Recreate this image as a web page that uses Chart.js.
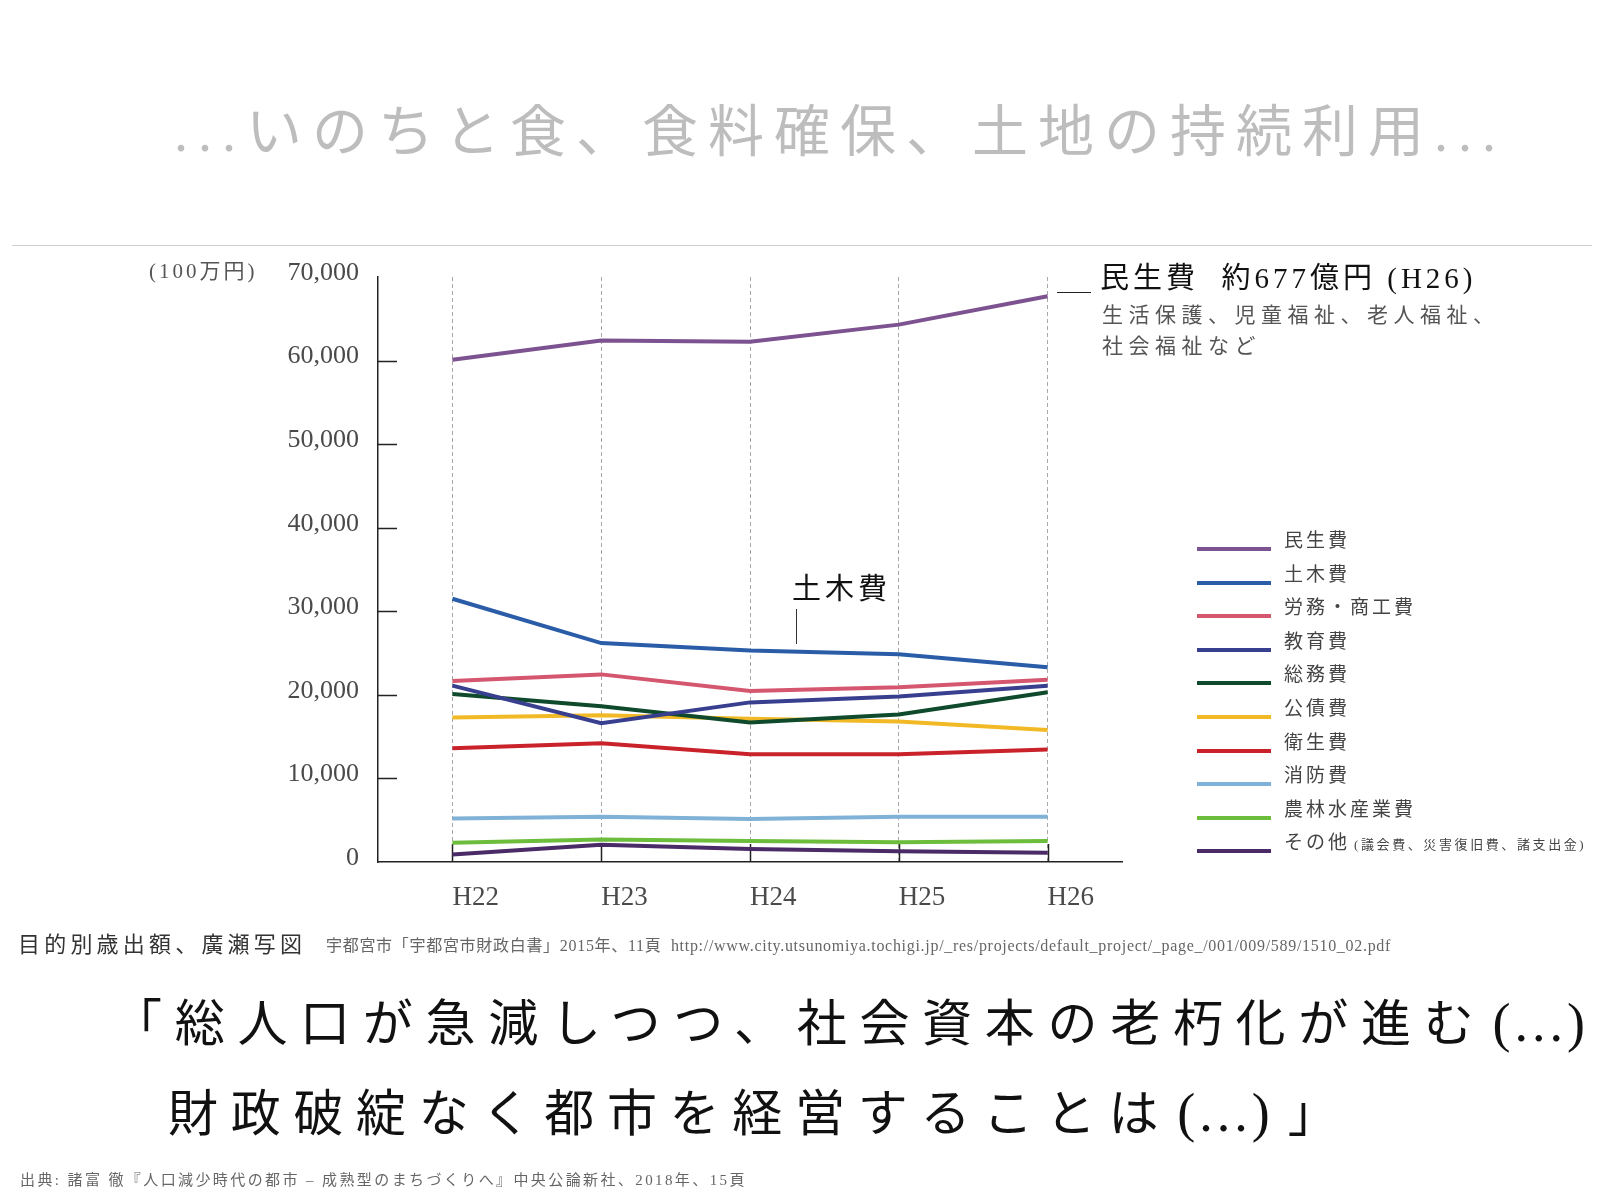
<!DOCTYPE html>
<html lang="ja">
<head>
<meta charset="utf-8">
<script src="https://cdn.jsdelivr.net/npm/chart.js@4.4.1/dist/chart.umd.min.js"></script>
<style>
  html, body { margin: 0; padding: 0; background: #fff; }
  #page {
    position: relative; width: 1600px; height: 1200px; overflow: hidden;
    font-family: 'Liberation Serif', 'Noto Sans CJK JP', serif;
  }
  #chart { position: absolute; left: 0; top: 0; }
  .t { position: absolute; white-space: nowrap; line-height: 1; }

  #title   { left: 174px; top: 104px; font-size: 56px; letter-spacing: 10px; color: #bdbdbd; }
  #rule    { position: absolute; left: 12px; top: 245px; width: 1580px; height: 0; border-top: 1.5px solid #cfcfcf; }
  #unit    { left: 149px; top: 261px; font-size: 21px; letter-spacing: 3px; color: #555; }

  #ann1    { left: 1100px; top: 264px; font-size: 29px; letter-spacing: 4px; color: #111; }
  #ann1b   { left: 1102px; top: 305px; font-size: 21px; letter-spacing: 5.5px; color: #555; }
  #ann1c   { left: 1102px; top: 336px; font-size: 21px; letter-spacing: 5.5px; color: #555; }
  #ann1dash{ position: absolute; left: 1057px; top: 292px; width: 34px; border-top: 1.5px solid #222; }

  #ann2    { left: 792px; top: 575px; font-size: 29px; letter-spacing: 4px; color: #111; }
  #ann2line{ position: absolute; left: 796px; top: 609px; height: 35px; border-left: 1.5px solid #333; }

  .lg-line { position: absolute; left: 1197px; width: 74px; height: 4px; }
  .lg-text { position: absolute; left: 1284px; font-size: 19px; letter-spacing: 3px; color: #444; line-height: 1; white-space: nowrap; }
  .lg-text small { font-size: 13px; letter-spacing: 2.6px; margin-left: 4px; }

  #src1    { left: 18px; top: 934px; font-size: 22px; letter-spacing: 4.2px; color: #333; }
  #src2    { left: 326px; top: 938px; font-size: 16px; letter-spacing: 0.7px; color: #666; }
  #quote1  { left: 112px; top: 996px; font-size: 50px; letter-spacing: 12.7px; color: #111; }
  #quote2  { left: 168px; top: 1086px; font-size: 50px; letter-spacing: 12.7px; color: #111; }
  .lat     { font-size: 54px; letter-spacing: 4px; margin-left: 6px; margin-right: 14px; }
  #foot    { left: 20px; top: 1173px; font-size: 15px; letter-spacing: 2.4px; color: #666; }
</style>
</head>
<body>
<div id="page">
  <canvas id="chart" width="1600" height="1200"></canvas>

  <div class="t" id="title">...いのちと食、食料確保、土地の持続利用...</div>
  <div id="rule"></div>
  <div class="t" id="unit">(100万円)</div>

  <div id="ann1dash"></div>
  <div class="t" id="ann1">民生費&nbsp;&nbsp;約677億円 (H26)</div>
  <div class="t" id="ann1b">生活保護、児童福祉、老人福祉、</div>
  <div class="t" id="ann1c">社会福祉など</div>

  <div class="t" id="ann2">土木費</div>
  <div id="ann2line"></div>

  <div id="legend"></div>

  <div class="t" id="src1">目的別歳出額、廣瀬写図</div>
  <div class="t" id="src2">宇都宮市「宇都宮市財政白書」2015年、11頁&nbsp;&nbsp;http://www.city.utsunomiya.tochigi.jp/_res/projects/default_project/_page_/001/009/589/1510_02.pdf</div>
  <div class="t" id="quote1">「総人口が急減しつつ、社会資本の老朽化が進む<span class="lat">(...)</span></div>
  <div class="t" id="quote2">財政破綻なく都市を経営することは<span class="lat">(...)</span>」</div>
  <div class="t" id="foot">出典: 諸富 徹『人口減少時代の都市 – 成熟型のまちづくりへ』中央公論新社、2018年、15頁</div>
</div>

<script>
// ─────────────────────────────────────────────
//  Data (100万円)
// ─────────────────────────────────────────────

const YEARS = ['H22', 'H23', 'H24', 'H25', 'H26'];

const SERIES_NAMES = ['民生費', '土木費', '労務・商工費', '教育費', '総務費',
                      '公債費', '衛生費', '消防費', '農林水産業費', 'その他'];
const SERIES_NOTE  = '(議会費、災害復旧費、諸支出金)'; // shown after その他

const minsei  = [60100, 62400, 62250, 64300, 67700];
const doboku  = [31500, 26200, 25300, 24850, 23300];
const roumu   = [21650, 22450, 20450, 20900, 21800];
const kyouiku = [21100, 16600, 19100, 19800, 21100];
const soumu   = [20100, 18650, 16700, 17650, 20300];
const kousai  = [17300, 17550, 17150, 16800, 15800];
const eisei   = [13600, 14200, 12900, 12900, 13450];
const shoubou = [5200, 5400, 5150, 5400, 5400];
const nourin  = [2300, 2700, 2500, 2350, 2500];
const sonota  = [900, 2050, 1550, 1300, 1100];

const Y_MAX  = 70000;
const Y_STEP = 10000;

const COLORS = ['#7d5290', '#2a5ca8', '#d5566f', '#373f8e', '#0e4a2b',
                '#f2b926', '#c9222b', '#7fb2d6', '#6cbd3c', '#4b2a68'];

const SERIES = [minsei, doboku, roumu, kyouiku, soumu, kousai, eisei, shoubou, nourin, sonota];

// ─────────────────────────────────────────────
//  Legend (HTML)
// ─────────────────────────────────────────────

const LEGEND_TOP = 549, LEGEND_STEP = 33.6;
document.getElementById('legend').innerHTML = SERIES_NAMES.map((name, i) => {
  const cy = LEGEND_TOP + i * LEGEND_STEP;
  const note = i === SERIES_NAMES.length - 1 ? `<small>${SERIES_NOTE}</small>` : '';
  return `
    <div class="lg-line" style="top:${cy - 2}px;background:${COLORS[i]}"></div>
    <div class="lg-text" style="top:${cy - 18}px">${name}${note}</div>`;
}).join('');

// ─────────────────────────────────────────────
//  Inner tick marks (drawn inside the plot)
// ─────────────────────────────────────────────

const innerTicks = {
  id: 'innerTicks',
  beforeDatasetsDraw(chart) {
    const { ctx, scales: { x, y } } = chart;
    ctx.save();
    ctx.strokeStyle = '#222';
    ctx.lineWidth = 1.5;
    ctx.beginPath();
    y.ticks.forEach(t => {
      if (t.value <= 0 || t.value >= Y_MAX) return;
      const py = Math.round(y.getPixelForValue(t.value)) + 0.5;
      ctx.moveTo(x.left, py);
      ctx.lineTo(x.left + 19, py);
    });
    x.ticks.forEach((_, i) => {
      const px = Math.round(x.getPixelForTick(i)) + 0.5;
      ctx.moveTo(px, y.bottom);
      ctx.lineTo(px, y.bottom - 18);
    });
    ctx.stroke();
    ctx.restore();
  }
};

// ─────────────────────────────────────────────
//  Chart
// ─────────────────────────────────────────────

const ctx = document.getElementById('chart').getContext('2d');
new Chart(ctx, {
  type: 'line',
  data: {
    labels: YEARS,
    datasets: SERIES.map((data, i) => ({
      label: SERIES_NAMES[i],
      data,
      borderColor: COLORS[i],
      backgroundColor: COLORS[i],
      borderWidth: 4,
      pointRadius: 0,
      tension: 0,
      fill: false,
    })),
  },
  options: {
    responsive: false,
    animation: false,
    devicePixelRatio: 1,
    layout: { padding: { left: 278, right: 478, top: 277, bottom: 278 } },
    plugins: {
      legend:  { display: false },
      tooltip: { enabled: false },
    },
    scales: {
      x: {
        offset: true,
        afterFit: s => { s.height = 60; },
        grid: {
          display: true,
          offset: false,
          drawTicks: false,
          color: '#a8a8a8',
          lineWidth: 1,
        },
        border: { display: true, color: '#222', width: 1.5, dash: [4, 3] },
        ticks: {
          align: 'start',
          padding: 20,
          color: '#4a4a4a',
          font: { family: "'Liberation Serif', serif", size: 27 },
        },
      },
      y: {
        min: 0,
        max: Y_MAX,
        afterFit: s => { s.width = 100; },
        grid: { display: false, drawTicks: false },
        border: { display: true, color: '#222', width: 1.5 },
        ticks: {
          stepSize: Y_STEP,
          padding: 19,
          labelOffset: -4,
          color: '#4a4a4a',
          font: { family: "'Liberation Serif', serif", size: 26 },
          callback: v => v.toLocaleString('en-US'),
        },
      },
    },
  },
  plugins: [innerTicks],
});
</script>
</body>
</html>
